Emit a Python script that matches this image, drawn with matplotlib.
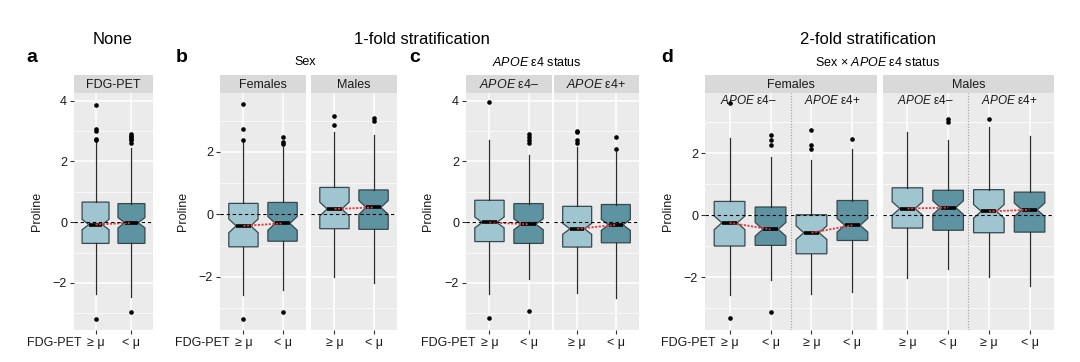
"""
Boxplots de prolina por FDG-PET (>= / < media), con estratificación por sexo y APOE e4
"""

import matplotlib
matplotlib.use('Agg')
import matplotlib.pyplot as plt

plt.rcParams['font.family'] = ['Liberation Sans', 'DejaVu Sans']
plt.rcParams['mathtext.fontset'] = 'custom'
plt.rcParams['mathtext.it'] = 'Liberation Sans:italic'
plt.rcParams['mathtext.rm'] = 'Liberation Sans'

# ---- Datos ----
group_labels = ['≥ μ', '< μ']

# a: sin estratificación
a_q1 = [-0.70, -0.70]
a_med = [-0.08, -0.02]
a_q3 = [0.66, 0.61]
a_lo = [-2.37, -2.46]
a_hi = [2.65, 2.45]
a_fliers = [[2.70, 2.75, 3.00, 3.05, 3.85, -3.20],
            [2.60, 2.70, 2.75, 2.80, 2.85, 2.90, -2.97]]

# b: sexo
b_fem_q1 = [-1.04, -0.86]
b_fem_med = [-0.37, -0.29]
b_fem_q3 = [0.35, 0.38]
b_fem_lo = [-2.58, -2.42]
b_fem_hi = [2.30, 2.15]
b_fem_fliers = [[2.37, 2.73, 3.52, -3.35], [2.25, 2.32, 2.48, -3.12]]

b_mal_q1 = [-0.46, -0.48]
b_mal_med = [0.17, 0.22]
b_mal_q3 = [0.86, 0.78]
b_mal_lo = [-2.00, -2.20]
b_mal_hi = [2.64, 2.55]
b_mal_fliers = [[2.87, 3.13], [2.98, 3.08]]

# c: estado APOE e4
c_neg_q1 = [-0.64, -0.70]
c_neg_med = [-0.01, -0.07]
c_neg_q3 = [0.72, 0.61]
c_neg_lo = [-2.37, -1.86]
c_neg_hi = [2.70, 2.22]
c_neg_fliers = [[3.95, -3.16], [2.60, 2.70, 2.80, 2.90, -2.93]]

c_pos_q1 = [-0.82, -0.68]
c_pos_med = [-0.22, -0.09]
c_pos_q3 = [0.52, 0.58]
c_pos_lo = [-2.34, -2.50]
c_pos_hi = [2.48, 2.32]
c_pos_fliers = [[2.60, 2.70, 2.95, 3.00], [2.40, 2.80]]

# d: sexo x APOE e4  (orden: e4- >=, e4- <, e4+ >=, e4+ <)
d_fem_q1 = [-0.99, -0.97, -1.24, -0.81]
d_fem_med = [-0.24, -0.45, -0.56, -0.32]
d_fem_q3 = [0.45, 0.27, 0.02, 0.48]
d_fem_lo = [-2.58, -2.10, -2.53, -2.47]
d_fem_hi = [2.49, 1.87, 1.80, 2.15]
d_fem_fliers = [[3.62, -3.32], [2.26, 2.42, 2.58, -3.12], [2.15, 2.26, 2.74], [2.47]]

d_mal_q1 = [-0.41, -0.48, -0.56, -0.54]
d_mal_med = [0.22, 0.25, 0.13, 0.18]
d_mal_q3 = [0.89, 0.81, 0.83, 0.75]
d_mal_lo = [-2.01, -1.72, -2.00, -2.29]
d_mal_hi = [2.69, 2.42, 2.85, 2.55]
d_mal_fliers = [[], [3.01, 3.12], [3.12], []]

# ---- Estilo ----
W, H = 1080, 362
LIGHT = '#9fc6d0'
DARK = '#5e94a2'
BG = '#ebebeb'
STRIP = '#d9d9d9'

fig = plt.figure(figsize=(W / 100, H / 100), dpi=100)


def add_panel(x0, x1, y0=93, y1=330):
    return fig.add_axes([x0 / W, 1 - y1 / H, (x1 - x0) / W, (y1 - y0) / H])


def add_strip(x0, x1, label, y0=75, y1=93):
    s = fig.add_axes([x0 / W, 1 - y1 / H, (x1 - x0) / W, (y1 - y0) / H])
    s.set_facecolor(STRIP)
    s.set_xticks([])
    s.set_yticks([])
    for sp in s.spines.values():
        sp.set_visible(False)
    s.text(0.5, 0.45, label, ha='center', va='center', transform=s.transAxes,
           fontsize=9, color='#1a1a1a')
    return s


def draw_facet(ax, q1, med, q3, lo, hi, fliers, ylim, yticks, show_y, notch=0.2):
    n = len(med)
    pos = list(range(1, n + 1))
    stats = []
    for i in range(n):
        stats.append(dict(med=med[i], q1=q1[i], q3=q3[i], whislo=lo[i], whishi=hi[i],
                          fliers=fliers[i], cilo=med[i] - notch, cihi=med[i] + notch))
    bp = ax.bxp(stats, positions=pos, widths=0.75, shownotches=True, showcaps=False,
                patch_artist=True,
                boxprops=dict(edgecolor='#37474c', linewidth=0.9),
                medianprops=dict(color='black', linewidth=2.6),
                whiskerprops=dict(color='#2a2a2a', linewidth=0.9),
                flierprops=dict(marker='o', markersize=2.3, markerfacecolor='black',
                                markeredgecolor='black', linestyle='none'))
    for i, patch in enumerate(bp['boxes']):
        patch.set_facecolor(LIGHT if i % 2 == 0 else DARK)

    # línea roja entre medianas de cada par
    for i in range(0, n, 2):
        ax.plot([pos[i], pos[i + 1]], [med[i], med[i + 1]], color='#e5383f',
                linestyle=(0, (1.2, 0.8)), linewidth=1.3, zorder=5)
    ax.axhline(0, color='black', linestyle=(0, (3, 2.5)), linewidth=0.8, zorder=6)

    ax.set_facecolor(BG)
    ax.set_axisbelow(True)
    ax.set_xlim(0.4, n + 0.6)
    ax.set_ylim(*ylim)
    ax.set_yticks(yticks)
    ax.set_yticks([t for t in (-3, -1, 1, 3) if ylim[0] < t < ylim[1]], minor=True)
    ax.set_xticks(pos)
    ax.set_xticklabels((group_labels * 2)[:n])
    ax.grid(which='major', color='white', linewidth=1.1)
    ax.grid(which='minor', axis='y', color='white', linewidth=0.5)
    ax.tick_params(which='major', length=3, width=0.8, color='#333333', labelsize=9,
                   labelcolor='#1a1a1a', pad=2)
    ax.tick_params(which='minor', length=0)
    if not show_y:
        ax.tick_params(axis='y', which='both', left=False, labelleft=False)
    for sp in ax.spines.values():
        sp.set_visible(False)


def fdg_prefix(ax):
    ax.annotate('FDG-PET', xy=(1, 0), xycoords=('data', 'axes fraction'),
                xytext=(-10, -5), textcoords='offset points', ha='right', va='top',
                fontsize=9, color='#1a1a1a')


def ylabel(x, ax_label='Proline'):
    fig.text(x / W, 1 - 211 / H, ax_label, rotation=90, ha='center', va='center',
             fontsize=9, color='#1a1a1a')


ylim_ac = (-3.55, 4.25)
ylim_b = (-3.70, 3.88)
ylim_d = (-3.70, 3.95)

# ---- a ----
ax = add_panel(74, 153)
draw_facet(ax, a_q1, a_med, a_q3, a_lo, a_hi, a_fliers, ylim_ac, [-2, 0, 2, 4], True, 0.17)
fdg_prefix(ax)
add_strip(74, 153, 'FDG-PET')
ylabel(37)

# ---- b ----
ax = add_panel(220, 306)
draw_facet(ax, b_fem_q1, b_fem_med, b_fem_q3, b_fem_lo, b_fem_hi, b_fem_fliers,
           ylim_b, [-2, 0, 2], True, 0.22)
fdg_prefix(ax)
add_strip(220, 306, 'Females')
ax = add_panel(311, 397)
draw_facet(ax, b_mal_q1, b_mal_med, b_mal_q3, b_mal_lo, b_mal_hi, b_mal_fliers,
           ylim_b, [-2, 0, 2], False, 0.22)
add_strip(311, 397, 'Males')
ylabel(183)

# ---- c ----
ax = add_panel(466, 552)
draw_facet(ax, c_neg_q1, c_neg_med, c_neg_q3, c_neg_lo, c_neg_hi, c_neg_fliers,
           ylim_ac, [-2, 0, 2, 4], True, 0.18)
fdg_prefix(ax)
add_strip(466, 552, r'$\mathit{APOE}$ ε4–')
ax = add_panel(554, 639)
draw_facet(ax, c_pos_q1, c_pos_med, c_pos_q3, c_pos_lo, c_pos_hi, c_pos_fliers,
           ylim_ac, [-2, 0, 2, 4], False, 0.18)
add_strip(554, 639, r'$\mathit{APOE}$ ε4+')
ylabel(428)

# ---- d ----
d_axes = []
ax = add_panel(705, 877)
draw_facet(ax, d_fem_q1, d_fem_med, d_fem_q3, d_fem_lo, d_fem_hi, d_fem_fliers,
           ylim_d, [-2, 0, 2], True, 0.22)
fdg_prefix(ax)
add_strip(705, 877, 'Females')
d_axes.append(ax)
ax = add_panel(883, 1054)
draw_facet(ax, d_mal_q1, d_mal_med, d_mal_q3, d_mal_lo, d_mal_hi, d_mal_fliers,
           ylim_d, [-2, 0, 2], False, 0.22)
add_strip(883, 1054, 'Males')
d_axes.append(ax)
for ax in d_axes:
    ax.axvline(2.5, color='#9a9a9a', linestyle=(0, (1, 1.5)), linewidth=0.8, zorder=1)
    for xc, lab in [(1.45, r'$\mathit{APOE}$ ε4–'), (3.5, r'$\mathit{APOE}$ ε4+')]:
        ax.text(xc, 0.995, lab, transform=ax.get_xaxis_transform(), ha='center',
                va='top', fontsize=8.5, color='#1a1a1a', zorder=7)
ylabel(668)

# ---- títulos ----
for x, s in [(32, 'a'), (182, 'b'), (415, 'c'), (667, 'd')]:
    fig.text(x / W, 1 - 57 / H, s, ha='center', va='center', fontsize=14,
             fontweight='bold')
fig.text(113 / W, 1 - 39 / H, 'None', ha='center', va='center', fontsize=12)
fig.text(422 / W, 1 - 40 / H, '1-fold stratification', ha='center', va='center',
         fontsize=12)
fig.text(868 / W, 1 - 40 / H, '2-fold stratification', ha='center', va='center',
         fontsize=12)
fig.text(305 / W, 1 - 62 / H, 'Sex', ha='center', va='center', fontsize=9)
fig.text(537 / W, 1 - 62 / H, r'$\mathit{APOE}$ ε4 status', ha='center', va='center',
         fontsize=9)
fig.text(877 / W, 1 - 62 / H, r'Sex × $\mathit{APOE}$ ε4 status', ha='center',
         va='center', fontsize=9)

plt.savefig('out.png', dpi=100)
plt.close()
